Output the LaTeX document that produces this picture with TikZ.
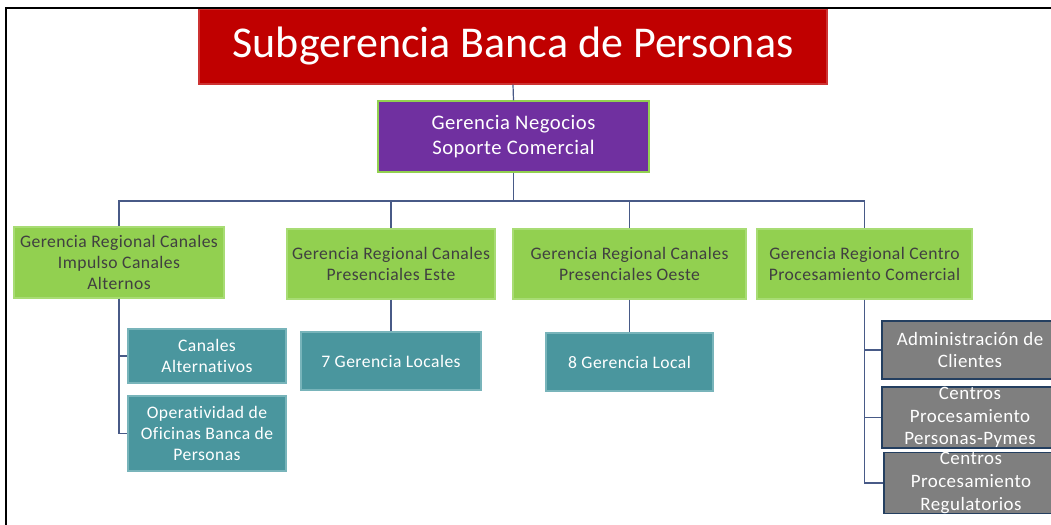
\documentclass[tikz,border=0pt]{standalone}
\usepackage{fontspec}
\setmainfont{Carlito}[Ligatures=NoCommon]
\newfontfamily\spfont{Carlito}[LetterSpace=2.5, Ligatures=NoCommon]
\definecolor{cred}{HTML}{C00000}
\definecolor{cpurple}{HTML}{7030A0}
\definecolor{cgreen}{HTML}{92D050}
\definecolor{cgreenb}{HTML}{A8DC74}
\definecolor{cteal}{RGB}{74,150,158}
\definecolor{ctealb}{RGB}{120,180,186}
\definecolor{cgray}{HTML}{7F7F7F}
\definecolor{cnavy}{HTML}{243F60}
\definecolor{cline}{RGB}{72,90,135}
\definecolor{ctext}{HTML}{404040}
\begin{document}
\begin{tikzpicture}[x=0.75pt,y=-0.75pt,
  box/.style={rectangle, inner sep=0pt, align=center, line width=0.9pt},
  titlebox/.style={box, fill=cred, draw=cred!80!white, text=white, font=\fontsize{33}{40}\selectfont},
  purplebox/.style={box, fill=cpurple, draw=cgreen, text=white, font=\spfont\fontsize{15.5}{18.75}\selectfont},
  greenbox/.style={box, fill=cgreen, draw=cgreenb, text=ctext, font=\spfont\fontsize{13.2}{15.75}\selectfont},
  tealbox/.style={box, fill=cteal, draw=ctealb, text=white, font=\spfont\fontsize{13.2}{15.75}\selectfont},
  graybox/.style={box, fill=cgray, draw=cnavy, line width=1.1pt, text=white, font=\spfont\fontsize{14.2}{16.9}\selectfont},
  conn/.style={draw=cline, line width=0.9pt},
  frameline/.style={draw=black, line width=1.4pt}
]
\useasboundingbox (0,0) rectangle (1051,525);
\clip (0,0) rectangle (1051,525);
\fill[white] (0,0) rectangle (1051,525);

% nodes
\node[titlebox, minimum width=471pt, minimum height=56.25pt] (T) at (513,46.5) {Subgerencia Banca de Personas};
\node[purplebox, minimum width=203.25pt, minimum height=53.25pt] (P) at (513.5,136.5) {Gerencia Negocios\\Soporte Comercial};

\node[greenbox, minimum width=157.5pt, minimum height=53.25pt] (G1) at (119,262.5) {Gerencia Regional Canales\\Impulso Canales\\Alternos};
\node[greenbox, minimum width=156pt, minimum height=52.5pt] (G2) at (391,264) {Gerencia Regional Canales\\Presenciales Este};
\node[greenbox, minimum width=174.75pt, minimum height=52.5pt] (G3) at (629.5,264) {Gerencia Regional Canales\\Presenciales Oeste};
\node[greenbox, minimum width=161.25pt, minimum height=52.5pt] (G4) at (864.5,264) {Gerencia Regional Centro\\Procesamiento Comercial};

\node[tealbox, minimum width=118.5pt, minimum height=40.5pt] (T1) at (207,356) {Canales\\Alternativos};
\node[tealbox, minimum width=118.5pt, minimum height=56.25pt] (T2) at (207,433.5) {Operatividad de\\Oficinas Banca de\\Personas};
\node[tealbox, minimum width=135pt, minimum height=43.5pt] (T3) at (391,361) {7 Gerencia Locales};
\node[tealbox, minimum width=125.25pt, minimum height=43.5pt] (T4) at (629.5,362) {8 Gerencia Local};

\node[graybox, minimum width=132pt, minimum height=43.5pt] (A1) at (970,350) {Administración de\\Clientes};
\node[graybox, minimum width=132pt, minimum height=45.75pt] (A2) at (970,417.5) {Centros\\Procesamiento\\Personas-Pymes};
\node[graybox, minimum width=130.5pt, minimum height=45pt] (A3) at (971,483) {Centros\\Procesamiento\\Regulatorios};

% connectors
\coordinate (bus) at (0,201);
\draw[conn] (T.south) -- (P.north);
\draw[conn] (P.south) -- (P.south |- bus) -| (G1.north);
\draw[conn] (P.south |- bus) -| (G2.north);
\draw[conn] (P.south |- bus) -| (G3.north);
\draw[conn] (P.south |- bus) -| (G4.north);

\draw[conn] (G1.south) |- (T1.west);
\draw[conn] (G1.south) |- (T2.west);
\draw[conn] (G2.south) -- (T3.north);
\draw[conn] (G3.south) -- (T4.north);
\draw[conn] (G4.south) |- (A1.west);
\draw[conn] (G4.south) |- (A2.west);
\draw[conn] (G4.south) |- (A3.west);

% frame
\coordinate (fr1) at (1060,8);
\coordinate (fr2) at (6,8);
\coordinate (fr3) at (6,530);
\draw[frameline] (fr1) -- (fr2) -- (fr3);
\end{tikzpicture}
\end{document}
